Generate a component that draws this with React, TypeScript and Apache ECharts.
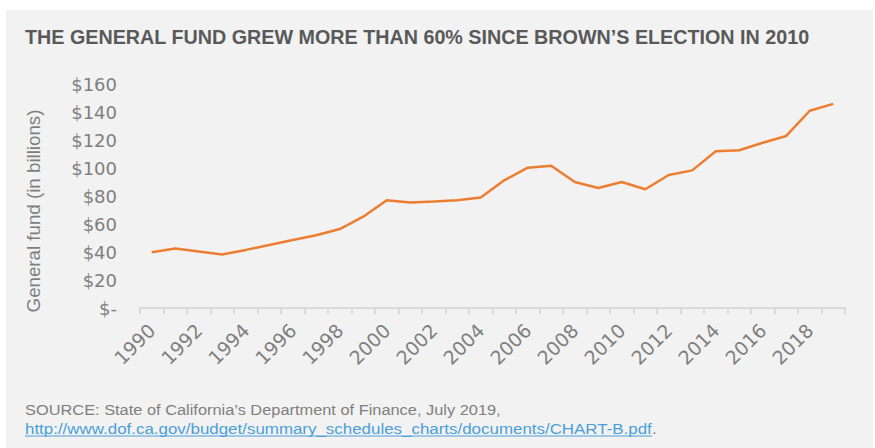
import React, { useEffect, useRef } from "react";
import * as echarts from "echarts";

const years: string[] = [
  "1990", "1991", "1992", "1993", "1994", "1995", "1996", "1997", "1998", "1999",
  "2000", "2001", "2002", "2003", "2004", "2005", "2006", "2007", "2008", "2009",
  "2010", "2011", "2012", "2013", "2014", "2015", "2016", "2017", "2018", "2019",
];

const generalFund: number[] = [
  39.9, 42.5, 40.3, 38.2, 41.5, 45.0, 48.6, 52.0, 56.4, 65.2,
  77.0, 75.4, 76.1, 77.0, 78.9, 91.2, 100.2, 101.6, 90.0, 85.7,
  90.0, 84.8, 95.0, 98.3, 112.0, 112.7, 118.0, 122.9, 140.9, 145.8,
];

const yTicks = { min: 0, max: 160, interval: 20 };

const titleText = "THE GENERAL FUND GREW MORE THAN 60% SINCE BROWN\u2019S ELECTION IN 2010";
const yAxisName = "General fund (in billions)";
const sourceLine1 = "SOURCE: State of California\u2019s Department of Finance, July 2019,";
const sourceLink = "http://www.dof.ca.gov/budget/summary_schedules_charts/documents/CHART-B.pdf";

const TITLE_FONT = 'bold 21px "Liberation Sans"';
const NAME_FONT = '18px "Liberation Sans"';
const SRC_FONT = '15.5px "Liberation Sans"';

function measure(text: string, font: string): number {
  const c = document.createElement("canvas");
  const ctx = c.getContext("2d");
  if (!ctx) return text.length * 7.6;
  ctx.font = font;
  return ctx.measureText(text).width;
}

export default function App() {
  const ref = useRef<HTMLDivElement>(null);

  useEffect(() => {
    document.body.style.margin = "0";
    if (!ref.current) return;
    const chart = echarts.init(ref.current, null, { renderer: "svg" });
    const titleScale = 785 / measure(titleText, TITLE_FONT);
    const nameScale = 203 / measure(yAxisName, NAME_FONT);
    const line1Scale = 476 / measure(sourceLine1, SRC_FONT);
    const srcScale = 627 / measure(sourceLink, SRC_FONT);
    const linkW = measure(sourceLink, SRC_FONT) * srcScale;
    const srcX = 25;

    chart.setOption({
      animation: false,
      backgroundColor: "#ffffff",
      grid: { left: 140, right: 30, top: 84, bottom: 140, containLabel: false },
      graphic: [
        {
          type: "rect",
          z: -10,
          silent: true,
          shape: { x: 6, y: 10, width: 867, height: 438 },
          style: { fill: "#f2f2f2" },
        },
        {
          type: "text",
          x: 25,
          y: 37,
          scaleX: titleScale,
          style: {
            text: titleText,
            font: TITLE_FONT,
            fill: "#595959",
            align: "left",
            verticalAlign: "middle",
          },
        },
        {
          type: "text",
          x: 34,
          y: 211,
          rotation: Math.PI / 2,
          scaleX: nameScale,
          style: {
            text: yAxisName,
            font: NAME_FONT,
            fill: "#7f7f7f",
            align: "center",
            verticalAlign: "middle",
          },
        },
        {
          type: "text",
          x: srcX,
          y: 410,
          scaleX: line1Scale,
          style: {
            text: sourceLine1,
            font: SRC_FONT,
            fill: "#7f7f7f",
            align: "left",
            verticalAlign: "middle",
          },
        },
        {
          type: "text",
          x: srcX,
          y: 428.5,
          scaleX: srcScale,
          style: {
            text: sourceLink,
            font: SRC_FONT,
            fill: "#4a9fd8",
            align: "left",
            verticalAlign: "middle",
          },
        },
        {
          type: "text",
          x: srcX + linkW,
          y: 428.5,
          scaleX: srcScale,
          style: {
            text: ".",
            font: SRC_FONT,
            fill: "#7f7f7f",
            align: "left",
            verticalAlign: "middle",
          },
        },
        {
          type: "line",
          shape: { x1: srcX, y1: 436, x2: srcX + linkW, y2: 436 },
          style: { stroke: "#4a9fd8", lineWidth: 1 },
        },
      ],
      xAxis: {
        type: "category",
        data: years,
        boundaryGap: true,
        axisLine: { show: true, lineStyle: { color: "#d9d9d9", width: 2 } },
        axisTick: { show: true, interval: 0, length: 6, lineStyle: { color: "#d9d9d9", width: 2 } },
        axisLabel: {
          interval: 1,
          rotate: 45,
          margin: 19,
          color: "#7f7f7f",
          fontSize: 19,
          fontFamily: "DejaVu Sans",
        },
        splitLine: { show: false },
      },
      yAxis: {
        type: "value",
        min: yTicks.min,
        max: yTicks.max,
        interval: yTicks.interval,
        axisLine: { show: false },
        axisTick: { show: false },
        splitLine: { show: false },
        axisLabel: {
          margin: 23,
          color: "#7f7f7f",
          fontSize: 18,
          fontFamily: "DejaVu Sans",
          formatter: (v: number) => (v === 0 ? "$-" : "$" + v),
        },
      },
      series: [
        {
          type: "line",
          data: generalFund,
          showSymbol: false,
          symbol: "none",
          lineStyle: { color: "#ed7d31", width: 2.5 },
          itemStyle: { color: "#ed7d31" },
        },
      ],
    });
    return () => chart.dispose();
  }, []);

  return <div ref={ref} style={{ width: 875, height: 448 }} />;
}
